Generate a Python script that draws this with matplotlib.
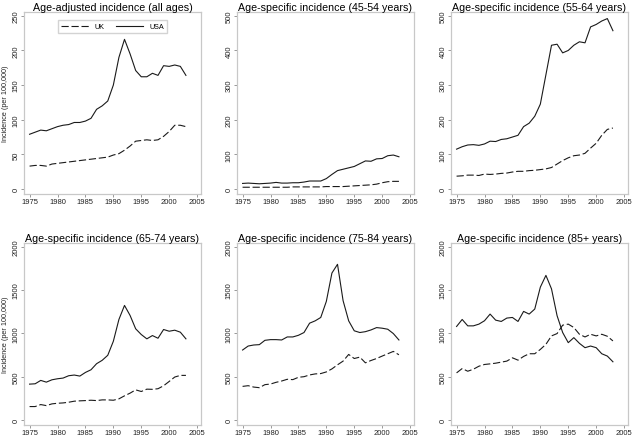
import matplotlib
matplotlib.use('Agg')
import matplotlib.pyplot as plt

years = list(range(1975, 2004))

titles = ['Age-adjusted incidence (all ages)',
          'Age-specific incidence (45-54 years)',
          'Age-specific incidence (55-64 years)',
          'Age-specific incidence (65-74 years)',
          'Age-specific incidence (75-84 years)',
          'Age-specific incidence (85+ years)']
ymax = [250, 500, 500, 2000, 2000, 2000]
ystep = [50, 100, 100, 500, 500, 500]

uk_all = [33, 34, 34, 33, 36, 37, 38, 39, 40, 41, 42, 43, 44, 45, 46, 49, 51, 56, 62, 69,
          70, 71, 70, 71, 76, 83, 92, 92, 90]
usa_all = [79, 82, 85, 84, 87, 90, 92, 93, 96, 96, 98, 102, 115, 120, 127, 150, 190, 216, 195, 171,
           162, 162, 167, 164, 178, 177, 179, 177, 164]

uk_45 = [5, 5, 5, 5, 5, 5, 5, 5, 5, 6, 6, 6, 6, 6, 6, 7, 7, 7, 7, 8,
         9, 10, 11, 12, 14, 18, 21, 22, 22]
usa_45 = [16, 17, 16, 15, 16, 17, 19, 17, 17, 18, 18, 20, 23, 23, 23, 30, 42, 53, 57, 61,
          65, 73, 81, 80, 87, 88, 96, 98, 93]

uk_55 = [37, 38, 40, 40, 39, 43, 42, 43, 45, 46, 49, 51, 51, 53, 54, 56, 58, 62, 72, 82,
         90, 96, 98, 103, 118, 132, 155, 172, 176]
usa_55 = [115, 122, 127, 128, 126, 130, 138, 137, 143, 145, 150, 155, 180, 190, 210, 245, 330, 415, 418, 393,
          400, 415, 425, 422, 468, 475, 485, 492, 457]

uk_65 = [155, 155, 178, 166, 186, 193, 197, 205, 217, 221, 224, 228, 224, 232, 232, 228, 244, 279, 310, 348,
         329, 356, 354, 361, 395, 445, 496, 515, 515]
usa_65 = [414, 418, 457, 437, 464, 476, 484, 511, 519, 507, 549, 580, 650, 689, 747, 909, 1161, 1323, 1207, 1053,
          987, 937, 975, 944, 1045, 1025, 1037, 1014, 937]

uk_75 = [388, 396, 380, 373, 408, 415, 435, 450, 470, 466, 493, 500, 520, 532, 536, 555, 590, 637, 680, 757,
         710, 726, 660, 687, 710, 738, 765, 792, 753]
usa_75 = [808, 854, 866, 870, 920, 928, 928, 924, 959, 959, 978, 1010, 1118, 1145, 1184, 1370, 1697, 1798, 1378, 1145,
          1030, 1010, 1020, 1040, 1067, 1060, 1048, 998, 924]

uk_85 = [544, 594, 563, 586, 621, 641, 648, 656, 668, 680, 718, 691, 734, 765, 765, 815, 874, 971, 998, 1095,
         1107, 1068, 990, 959, 990, 971, 990, 967, 913]
usa_85 = [1080, 1161, 1087, 1087, 1107, 1146, 1223, 1153, 1138, 1177, 1184, 1138, 1254, 1223, 1281, 1534, 1670, 1514, 1204, 1010,
          893, 951, 885, 835, 854, 835, 765, 738, 672]

uk = [uk_all, uk_45, uk_55, uk_65, uk_75, uk_85]
usa = [usa_all, usa_45, usa_55, usa_65, usa_75, usa_85]

plt.rcParams['font.family'] = ['Liberation Sans', 'DejaVu Sans']
W, H = 634, 439
fig = plt.figure(figsize=(W / 100, H / 100), dpi=100)

lefts = [24, 237, 451]
tops = [13, 244]
aw, ah = 177, 182
frame = '#c8c8c8'
lc = '#1a1a1a'

for i in range(6):
    r, c = divmod(i, 3)
    ax = fig.add_axes([lefts[c] / W, 1 - (tops[r] + ah) / H, aw / W, ah / H])
    ax.plot(years, uk[i], color=lc, lw=0.8, dashes=(6.5, 2.5), label='UK')
    ax.plot(years, usa[i], color=lc, lw=0.8, label='USA')
    ax.set_xlim(1974.0, 2005.7)
    ax.set_ylim(-0.029 * ymax[i], 1.022 * ymax[i])
    ax.set_xticks(range(1975, 2006, 5))
    ax.set_yticks(range(0, ymax[i] + 1, ystep[i]))
    ax.tick_params(labelsize=5.5, length=2, width=0.6, color='#888888', pad=1,
                   labelcolor='#222222')
    for lab in ax.get_yticklabels():
        lab.set_rotation(90)
        lab.set_va('center')
    for s in ax.spines.values():
        s.set_color(frame)
        s.set_linewidth(0.9)
    ax.set_title(titles[i], fontsize=7.7, pad=1.5)
    if c == 0:
        ax.set_ylabel('Incidence (per 100,000)', fontsize=5.2, labelpad=2.5, color='#222222')
    if i == 0:
        ax.legend(loc='upper center', ncol=2, fontsize=5.2, handlelength=3.8,
                  columnspacing=1.6, frameon=True, fancybox=False,
                  edgecolor=frame, borderpad=0.4, bbox_to_anchor=(0.5, 0.975))

fig.savefig('out.png', dpi=100)
